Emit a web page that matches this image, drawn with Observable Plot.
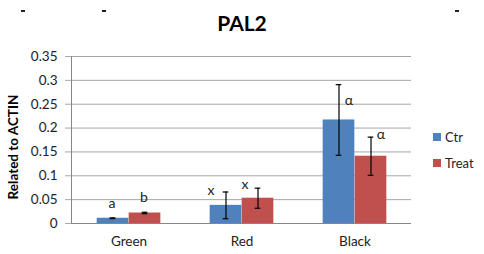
<!DOCTYPE html>
<html>
<head>
<meta charset="utf-8">
<script src="https://cdn.jsdelivr.net/npm/d3@7"></script>
<script src="https://cdn.jsdelivr.net/npm/@observablehq/plot@0.6"></script>
<style>
  html, body { margin: 0; padding: 0; background: #fff; }
  #wrap { position: relative; width: 484px; height: 254px; font-family: Lato, "Open Sans", sans-serif; }
  #title { position: absolute; left: 0; width: 484px; top: 10px; text-align: center; font-size: 21px; font-weight: bold; color: #000; }
  .dash { position: absolute; top: 10px; width: 4px; height: 2px; background: #222; }
  #legend { position: absolute; left: 433px; top: 128px; font-size: 13px; color: #222; }
  .li { display: flex; align-items: center; height: 18px; margin-bottom: 8px; }
  .sw { width: 8px; height: 8px; margin-right: 4px; }
</style>
</head>
<body>
<div id="wrap">
  <div class="dash" style="left:21px"></div>
  <div class="dash" style="left:102px"></div>
  <div class="dash" style="left:455px"></div>
  <div id="title">PAL2</div>
  <div id="chart"></div>
  <div id="legend"></div>
</div>
<script>
const categories = ["Green", "Red", "Black"];
const series = ["Ctr", "Treat"];
const ctrValues = [0.011, 0.038, 0.217];
const ctrErrors = [0.0008, 0.028, 0.074];
const treatValues = [0.022, 0.053, 0.141];
const treatErrors = [0.0015, 0.021, 0.040];
const ctrLetters = ["a", "x", "α"];
const treatLetters = ["b", "x", "α"];
const ctrLetterY = [0.042, 0.069, 0.258];
const treatLetterY = [0.055, 0.082, 0.187];
const yTicks = [0, 0.05, 0.1, 0.15, 0.2, 0.25, 0.3, 0.35];
const colors = {Ctr: "#4F81BD", Treat: "#C0504D"};

const rows = [];
categories.forEach((c, i) => {
  rows.push({cat: c, s: "Ctr", v: ctrValues[i], e: ctrErrors[i], lab: ctrLetters[i], ly: ctrLetterY[i], i});
  rows.push({cat: c, s: "Treat", v: treatValues[i], e: treatErrors[i], lab: treatLetters[i], ly: treatLetterY[i], i});
});
const ctr = rows.filter(d => d.s === "Ctr");
const treat = rows.filter(d => d.s === "Treat");

const W = 484, H = 254, mL = 71, mR = 73, mT = 56, mB = 31;
const bw = (W - mL - mR) / 3;
const barW = 32, half = bw / 2, capHalf = 3;
const labelDx = {Ctr: [-17, -31, -6], Treat: [15, 3, 26]};

const errMarks = (data, off) => [
  Plot.ruleX(data, {x: "cat", y1: d => d.v - d.e, y2: d => d.v + d.e, dx: off, stroke: "#000", strokeWidth: 1.2}),
  Plot.tickY(data, {x: "cat", y: d => d.v + d.e, insetLeft: half + off - capHalf, insetRight: half - off - capHalf, stroke: "#000", strokeWidth: 1.2}),
  Plot.tickY(data, {x: "cat", y: d => d.v - d.e, insetLeft: half + off - capHalf, insetRight: half - off - capHalf, stroke: "#000", strokeWidth: 1.2})
];

const labelMarks = rows.map(d =>
  Plot.text([d], {x: "cat", y: "ly", text: "lab", dx: labelDx[d.s][d.i], fontSize: 14, fill: "#222"})
);

const chart = Plot.plot({
  width: W, height: H,
  marginLeft: mL, marginRight: mR, marginTop: mT, marginBottom: mB,
  style: {fontFamily: "Lato, 'Open Sans', sans-serif", fontSize: "13px", color: "#222", background: "#fff"},
  x: {domain: categories, padding: 0, label: null},
  y: {domain: [0, 0.35], ticks: yTicks, label: null},
  marks: [
    Plot.gridY(yTicks, {stroke: "#A6A6A6", strokeOpacity: 1, strokeWidth: 1}),
    Plot.axisY(yTicks, {tickSize: 6, tickPadding: 8, stroke: "#A6A6A6", tickFormat: d => String(d), fontSize: 13.5, label: null}),
    Plot.axisX({tickSize: 0, tickPadding: 13, fontSize: 13.5, label: null}),
    Plot.barY(ctr, {x: "cat", y: "v", fill: colors.Ctr, insetLeft: half - barW, insetRight: half}),
    Plot.barY(treat, {x: "cat", y: "v", fill: colors.Treat, insetLeft: half, insetRight: half - barW}),
    Plot.frame({anchor: "left", stroke: "#868686"}),
    Plot.ruleY([0], {stroke: "#868686"}),
    ...errMarks(ctr, -16),
    ...errMarks(treat, 16),
    ...labelMarks
  ]
});
document.getElementById("chart").appendChild(chart);

// Y axis title
d3.select(chart).append("text")
  .attr("transform", `translate(15,147) rotate(-90)`)
  .attr("text-anchor", "middle")
  .attr("dominant-baseline", "middle")
  .attr("font-weight", "bold")
  .attr("font-size", 13.5)
  .attr("fill", "#000")
  .text("Related to ACTIN");

// Legend
const leg = document.getElementById("legend");
series.forEach(s => {
  const row = document.createElement("div");
  row.className = "li";
  const sw = document.createElement("div");
  sw.className = "sw";
  sw.style.background = colors[s];
  const tx = document.createElement("span");
  tx.textContent = s;
  row.appendChild(sw); row.appendChild(tx);
  leg.appendChild(row);
});
</script>
</body>
</html>
